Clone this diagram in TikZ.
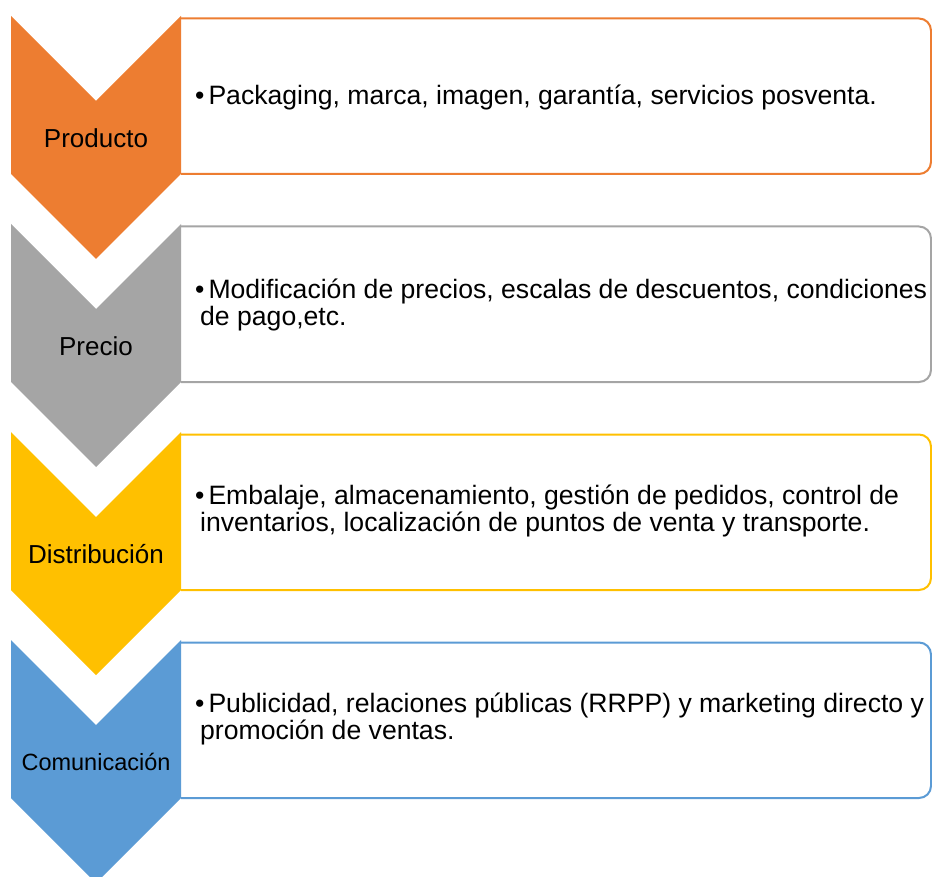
\documentclass[tikz,border=0pt]{standalone}
\usepackage{fontspec}
\setmainfont{Liberation Sans}
\definecolor{cOrange}{HTML}{ED7D31}
\definecolor{cGray}{HTML}{A5A5A5}
\definecolor{cYellow}{HTML}{FFC000}
\definecolor{cBlue}{HTML}{5B9BD5}
\newcommand{\chevron}[3]{% #1 top y, #2 colour, #3 name
  \fill[#2] (11,#1) -- (96,#1+85) -- (181,#1) -- (181,#1+158)
    -- (96,#1+243) -- (11,#1+158) -- cycle;
}
\newcommand{\listbox}[2]{% #1 top y, #2 colour
  \draw[boxline, draw=#2] (181,#1+2.5) -- (931,#1+2.5) -- (931,#1+158) -- (181,#1+158);
}
\tikzset{
  boxline/.style={line width=2pt, rounded corners=12pt, fill=white},
  labeltext/.style={inner sep=0pt, font=\fontsize{26}{28}\selectfont, text=black},
  itemtext/.style={inner sep=0pt, anchor=west, align=left,
    font=\fontsize{26.6}{27.5}\selectfont, text=black},
}
\begin{document}
\begin{tikzpicture}[x=1pt, y=-1pt]
  \useasboundingbox (0,0) rectangle (932,877);
  \clip (0,0) rectangle (932,877);
  % item boxes, open on the left where the chevrons sit
  \listbox{16}{cOrange}
  \listbox{224}{cGray}
  \listbox{432}{cYellow}
  \listbox{640}{cBlue}
  % chevrons
  \chevron{16}{cOrange}{c1}
  \chevron{224}{cGray}{c2}
  \chevron{432}{cYellow}{c3}
  \chevron{640}{cBlue}{c4}
  % chevron labels
  \node[labeltext] (l1) at (96,138) {Producto};
  \node[labeltext] (l2) at (96,346) {Precio};
  \node[labeltext] (l3) at (96,554) {Distribución};
  \node[labeltext, font=\fontsize{23.5}{26}\selectfont] (l4) at (96,762) {Comunicación};
  % item texts
  \node[itemtext] (t1) at (195,97)
    {•\hspace{4pt}Packaging, marca, imagen, garantía, servicios posventa.};
  \node[itemtext] (t2) at (195,305)
    {•\hspace{4pt}Modificación de precios, escalas de descuentos, condiciones\\
     \hspace*{5pt}de pago,etc.};
  \node[itemtext] (t3) at (195,511)
    {•\hspace{4pt}Embalaje, almacenamiento, gestión de pedidos, control de\\
     \hspace*{5pt}inventarios, localización de puntos de venta y transporte.};
  \node[itemtext] (t4) at (195,719)
    {•\hspace{4pt}Publicidad, relaciones públicas (RRPP) y marketing directo y\\
     \hspace*{5pt}promoción de ventas.};
\end{tikzpicture}
\end{document}
